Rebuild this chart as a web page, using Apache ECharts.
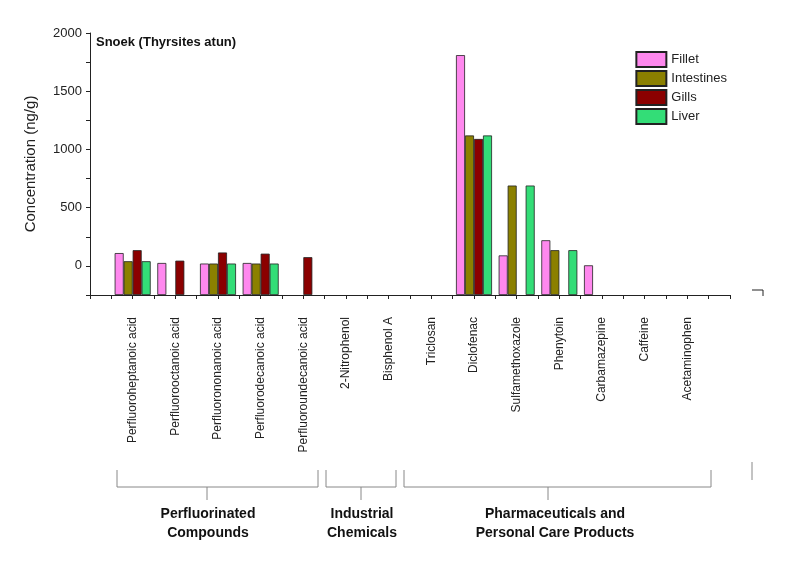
<!DOCTYPE html>
<html><head><meta charset="utf-8">
<script src="https://cdn.jsdelivr.net/npm/echarts@6/dist/echarts.min.js"></script>
<style>html,body{margin:0;background:#fff}#c{width:800px;height:561px}</style>
</head><body><div id="c"></div>
<script>
// compounds, in plotted order
var categories = ['Perfluoroheptanoic acid', 'Perfluorooctanoic acid', 'Perfluorononanoic acid',
    'Perfluorodecanoic acid', 'Perfluoroundecanoic acid', '2-Nitrophenol', 'Bisphenol A', 'Triclosan',
    'Diclofenac', 'Sulfamethoxazole', 'Phenytoin', 'Carbamazepine', 'Caffeine', 'Acetaminophen'];
var fillet     = [110, 25, 20, 25, null, null, null, null, 1810, 90, 220, 5, null, null];
var intestines = [40, null, 20, 20, null, null, null, null, 1120, 690, 135, null, null, null];
var gills      = [135, 45, 115, 105, 75, null, null, null, 1090, null, null, null, null, null];
var liver      = [40, null, 20, 20, null, null, null, null, 1120, 690, 135, null, null, null];
var yTicks = [0, 500, 1000, 1500, 2000];

var BASE = 250; // axis bottom sits at -250, bars rise from there
var chart = echarts.init(document.getElementById('c'));

function mk(name, vals, color) {
    var d = [];
    vals.forEach(function(v, i) {
        d.push([i, v === null ? null : v + BASE]);
    });
    return {
        name: name, type: 'bar', data: d, barWidth: 9, barGap: '0%',
        itemStyle: {color: color, borderColor: '#222', borderWidth: 0.8}
    };
}

var font = 'Arial, "Liberation Sans", sans-serif';
var brackets = [[117, 318, 207], [326, 396, 361], [404, 711, 548]];
var graphics = [];
brackets.forEach(function(b) {
    graphics.push({type: 'polyline', shape: {points: [[b[0], 470], [b[0], 487], [b[1], 487], [b[1], 470]]},
        style: {stroke: '#888', lineWidth: 1, fill: null}});
    graphics.push({type: 'line', shape: {x1: b[2], y1: 487, x2: b[2], y2: 500}, style: {stroke: '#888', lineWidth: 1}});
});
graphics.push({type: 'line', shape: {x1: 752, y1: 462, x2: 752, y2: 480}, style: {stroke: '#888', lineWidth: 1}});
graphics.push({type: 'polyline', shape: {points: [[752, 290], [763, 290], [763, 296]]}, style: {stroke: '#222', lineWidth: 1, fill: null}});
[['Perfluorinated\nCompounds', 208], ['Industrial\nChemicals', 362], ['Pharmaceuticals and\nPersonal Care Products', 555]].forEach(function(t) {
    graphics.push({type: 'text', x: t[1], y: 505, style: {text: t[0], font: 'bold 14px ' + font,
        fill: '#111', textAlign: 'center', lineHeight: 19}});
});
graphics.push({type: 'text', x: 96, y: 36, style: {text: 'Snoek (Thyrsites atun)', font: 'bold 13px ' + font, fill: '#111'}});

chart.setOption({
    animation: false,
    grid: {left: 90, right: 70, top: 33, bottom: 266},
    legend: {
        right: 68, top: 46, orient: 'vertical', itemWidth: 30, itemHeight: 15, itemGap: 2, icon: 'rect',
        textStyle: {fontSize: 13, fontFamily: font, color: '#222'},
        data: ['Fillet', 'Intestines', 'Gills', 'Liver']
    },
    xAxis: {
        type: 'value', min: -1, max: 14, interval: 0.5,
        splitLine: {show: false},
        axisLine: {onZero: false, lineStyle: {color: '#222'}},
        axisTick: {length: 4, lineStyle: {color: '#222'}},
        axisLabel: {
            rotate: 90, fontSize: 12, fontFamily: font, color: '#222', margin: 22,
            formatter: function(v) {
                return (Number.isInteger(v) && v >= 0 && v < categories.length) ? categories[v] : '';
            }
        }
    },
    yAxis: {
        type: 'value', min: 0, max: 2250, interval: 250,
        name: 'Concentration (ng/g)', nameLocation: 'middle', nameGap: 52,
        nameTextStyle: {fontSize: 15, fontFamily: font, color: '#222'},
        splitLine: {show: false},
        axisLine: {show: true, onZero: false, lineStyle: {color: '#222'}},
        axisTick: {show: true, length: 4, lineStyle: {color: '#222'}},
        axisLabel: {
            fontSize: 13, fontFamily: font, color: '#222',
            formatter: function(v) {
                var r = v - BASE;
                return yTicks.indexOf(r) >= 0 ? String(r) : '';
            }
        }
    },
    series: [
        mk('Fillet', fillet, '#ff88ee'),
        mk('Intestines', intestines, '#8b8000'),
        mk('Gills', gills, '#8b0000'),
        mk('Liver', liver, '#33dd77')
    ],
    graphic: graphics
});
</script></body></html>
